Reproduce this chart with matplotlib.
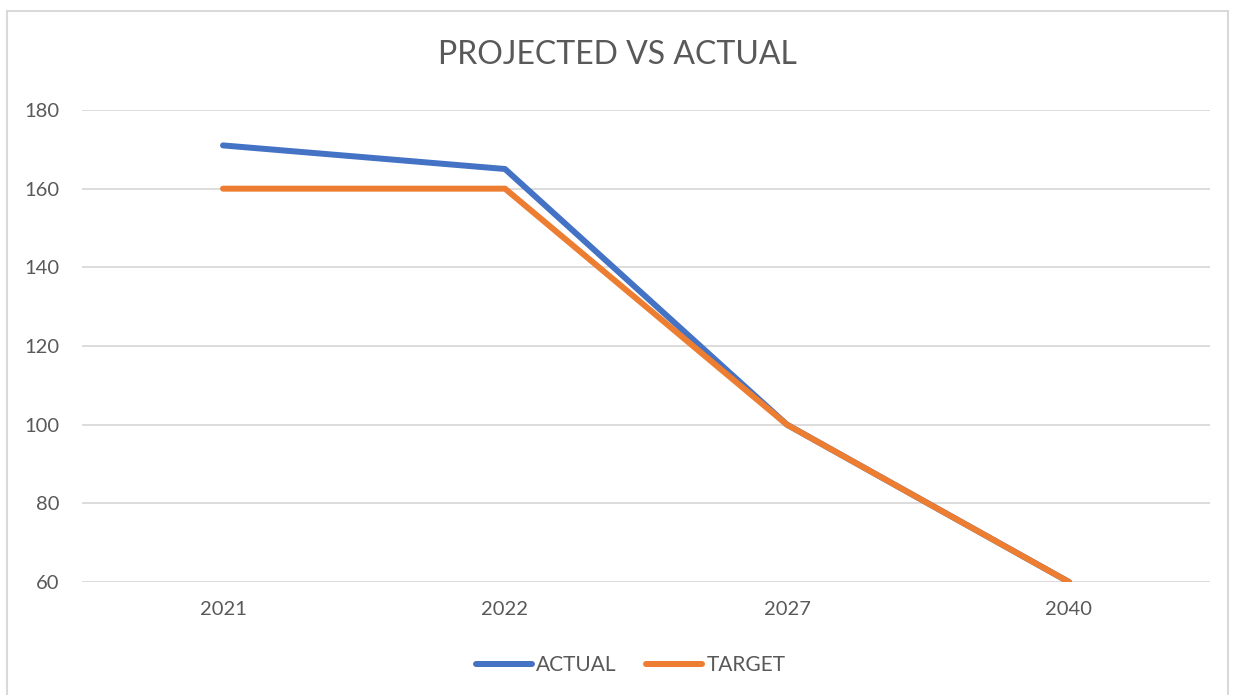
import matplotlib
matplotlib.use('Agg')
import matplotlib.pyplot as plt
from matplotlib.patches import Rectangle


YEARS = ['2021', '2022', '2027', '2040']
ACTUAL = [171, 165, 100, 60]
TARGET = [160, 160, 100, 60]

BLUE = '#4472C4'
ORANGE = '#ED7D31'
TEXT = '#595959'
GRID = '#D9D9D9'

plt.rcParams['font.family'] = ['Lato', 'DejaVu Sans']


def main():
    fig = plt.figure(figsize=(12.34, 6.95), dpi=100)
    fig.patches.append(Rectangle((7 / 1234, -0.1), 1221 / 1234, 1.1 - 11 / 695,
                                 transform=fig.transFigure, fill=False,
                                 edgecolor=GRID, linewidth=1.5))
    ax = fig.add_axes([82 / 1234, 1 - 582 / 695, 1128 / 1234, 472 / 695])

    x = list(range(len(YEARS)))
    ax.plot(x, ACTUAL, color=BLUE, linewidth=4.3, solid_capstyle='round',
            label='ACTUAL')
    ax.plot(x, TARGET, color=ORANGE, linewidth=4.3, solid_capstyle='round',
            label='TARGET')

    ax.set_xlim(-0.5, len(YEARS) - 0.5)
    ax.set_ylim(60, 180)
    ax.set_yticks(range(60, 181, 20))
    ax.set_xticks(x)
    ax.set_xticklabels(YEARS)
    ax.tick_params(axis='both', length=0, labelsize=14.5, labelcolor=TEXT)
    ax.tick_params(axis='x', pad=14)
    ax.tick_params(axis='y', pad=16)
    ax.grid(axis='y', color=GRID, linewidth=1.3)
    ax.set_axisbelow(True)
    for s in ax.spines.values():
        s.set_visible(False)

    fig.text(0.5, 1 - 55 / 695, 'PROJECTED VS ACTUAL', ha='center',
             va='center', fontsize=23, color=TEXT)

    fig.legend(loc='center', bbox_to_anchor=(0.511, 1 - 665 / 695), ncol=2,
               frameon=False, fontsize=15, labelcolor=TEXT, handlelength=2.7,
               handletextpad=0.2, columnspacing=1.4)

    fig.savefig('out.png', dpi=100)
    plt.close(fig)


if __name__ == '__main__':
    main()
